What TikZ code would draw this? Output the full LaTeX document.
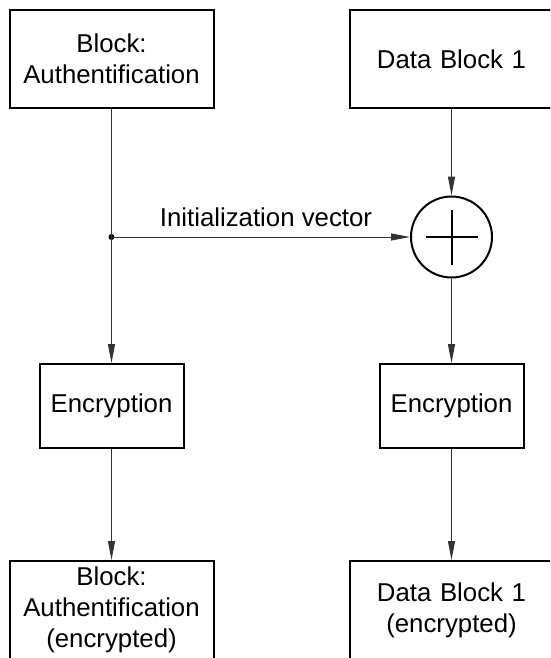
\documentclass[tikz,border=0pt]{standalone}
\usepackage{fontspec}
\setmainfont{Liberation Sans}
\usetikzlibrary{arrows.meta}

\begin{document}
\begin{tikzpicture}[
  x=1pt, y=-1pt,
  every node/.style={font=\fontsize{25.8}{31}\selectfont, align=center, inner sep=0pt},
  bigbox/.style={draw, line width=2pt, minimum width=204pt, minimum height=98pt},
  widebox/.style={draw, line width=2pt, minimum width=230pt, minimum height=98pt,
    text width=204pt, xshift=13pt},
  encbox/.style={draw, line width=2pt, minimum width=144pt, minimum height=84pt},
  xorgate/.style={draw, circle, line width=2pt, minimum size=81pt},
  flow/.style={draw=black!80, line width=1pt,
    -{Triangle[length=19pt,width=7pt]}}
]
\useasboundingbox (0,0) rectangle (550,658);
\clip (0,0) rectangle (550,658);

% left column: authentication block
\node[bigbox] (authTop) at (111.5,59) {Block:\\Authentification};
\node[encbox] (authEnc) at (111.5,406) {Encryption};
\node[bigbox] (authOut) at (111.5,610) {Block:\\Authentification\\(encrypted)};

% right column: first data block (boxes run past the right margin)
\node[xorgate] (xor) at (451.5,237) {};
\node[encbox] (dataEnc) at (451.5,406) {Encryption};
\node[widebox] (dataTop) at (451.5,59) {\hspace*{-26pt}Data Block 1};
\node[widebox] (dataOut) at (451.5,610) {\hspace*{-26pt}Data Block 1\\\hspace*{-26pt}(encrypted)};

% plus sign inside the XOR circle
\draw[line width=2pt] ([xshift=-26pt]xor.center) -- ([xshift=26pt]xor.center);
\draw[line width=2pt] ([yshift=-27.5pt]xor.center) -- ([yshift=27.5pt]xor.center);

% branch point for the initialization vector
\coordinate (ivsplit) at (authTop.south |- xor.west);
\fill (ivsplit) circle (3pt);

% connectors
\draw[flow] (authTop.south) -- (authEnc.north);
\draw[flow] (ivsplit) -- (xor.west);
\draw[flow] (xor |- dataTop.south) -- (xor.north);
\draw[flow] (xor.south) -- (dataEnc.north);
\draw[flow] (authEnc.south) -- (authOut.north);
\draw[flow] (dataEnc.south) -- (xor |- dataOut.north);

\node[anchor=base] (ivlabel) at (266,226.7) {Initialization vector};
\end{tikzpicture}
\end{document}
